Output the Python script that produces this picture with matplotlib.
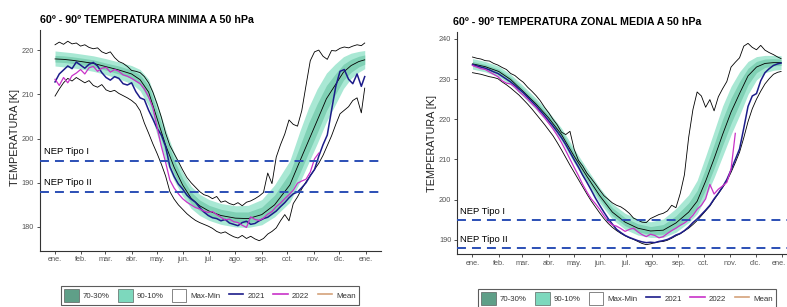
import matplotlib
matplotlib.use("Agg")
import matplotlib.pyplot as plt
from matplotlib.patches import Patch
from matplotlib.lines import Line2D
from matplotlib.transforms import ScaledTranslation

plt.rcParams['font.family'] = ['Liberation Sans', 'DejaVu Sans']

# ---------------- data ----------------
month_labels = ["ene.", "feb.", "mar.", "abr.", "may.", "jun.", "jul.",
                "ago.", "sep.", "oct.", "nov.", "dic.", "ene."]
month_days = [0, 31, 59, 90, 120, 151, 181, 212, 243, 273, 304, 334, 365]

nep_tipo1 = 195
nep_tipo2 = 188

days_5 = list(range(0, 361, 5)) + [364]
days_2022 = list(range(0, 311, 5))

# left panel: temperatura minima
min_days = [0, 10, 20, 31, 45, 59, 75, 90, 100, 110, 120, 130, 140, 150, 160, 170,
            181, 195, 212, 227, 243, 258, 276, 288, 298, 308, 319, 329, 339, 348, 357, 364]
min_mean = [218.0, 217.9, 217.7, 217.4, 217.0, 216.3, 215.5, 214.6, 213.3, 210.5, 204.5,
            198.5, 193.5, 189.5, 186.5, 184.8, 183.6, 182.6, 182.0, 181.9, 182.8, 185.0,
            189.5, 195.0, 199.5, 204.0, 209.0, 212.0, 215.0, 216.5, 217.4, 217.8]
min_p90 = [219.8, 219.6, 219.4, 219.1, 218.7, 218.1, 217.3, 216.5, 215.6, 213.4, 208.0,
           202.0, 196.8, 192.4, 189.2, 187.4, 186.2, 185.3, 184.8, 184.9, 186.2, 189.5,
           195.0, 201.8, 207.0, 211.2, 214.8, 216.8, 218.5, 219.3, 219.7, 219.9]
min_p70 = [218.8, 218.7, 218.5, 218.2, 217.8, 217.1, 216.4, 215.5, 214.4, 212.0, 206.3,
           200.3, 195.2, 191.0, 187.9, 186.1, 184.9, 184.0, 183.4, 183.4, 184.5, 187.2,
           192.3, 198.4, 203.5, 207.8, 212.0, 214.5, 216.8, 217.9, 218.6, 218.9]
min_p30 = [217.3, 217.2, 217.0, 216.7, 216.2, 215.5, 214.6, 213.6, 212.2, 209.0, 202.7,
           196.8, 192.0, 188.2, 185.3, 183.7, 182.6, 181.6, 181.0, 180.9, 181.6, 183.5,
           187.3, 192.3, 196.8, 201.2, 206.3, 209.8, 213.2, 215.0, 216.2, 216.8]
min_p10 = [216.4, 216.2, 216.0, 215.7, 215.2, 214.5, 213.5, 212.4, 210.8, 207.4, 200.8,
           195.0, 190.5, 187.0, 184.2, 182.6, 181.5, 180.6, 180.0, 179.9, 180.5, 182.3,
           185.6, 190.2, 194.5, 198.8, 203.8, 207.5, 211.3, 213.6, 215.0, 215.8]
min_max = [221.2, 221.8, 221.3, 222.0, 221.4, 221.6, 220.9, 221.2, 220.6, 220.3,
           220.5, 219.6, 219.2, 219.6, 218.3, 217.4, 217.0, 216.3, 215.4, 215.2,
           214.9, 214.0, 212.6, 210.5, 207.8, 204.8, 201.2, 198.4, 196.6, 194.8,
           192.9, 191.2, 190.0, 189.0, 188.0, 187.3, 187.0, 186.4, 186.9, 185.6,
           185.9, 185.3, 185.0, 185.5, 184.8, 185.6, 185.9, 186.4, 187.0, 187.8,
           192.2, 189.8, 195.8, 198.6, 201.0, 204.2, 203.2, 202.8, 206.3, 212.0,
           217.6, 219.6, 220.0, 218.6, 217.9, 219.9, 219.8, 220.4, 220.7, 220.5,
           220.9, 221.2, 221.0, 221.6]
min_min = [209.6, 211.2, 212.6, 213.6, 213.0, 213.8, 213.2, 212.6, 213.1, 212.0,
           211.6, 212.2, 211.0, 210.6, 210.9, 210.2, 209.7, 209.2, 208.6, 207.8,
           206.3, 203.5, 201.2, 198.8, 196.6, 194.2, 191.5, 188.0, 186.3, 185.0,
           184.0, 183.0, 182.2, 181.5, 181.0, 180.6, 180.2, 179.7, 179.0, 178.6,
           178.9, 178.3, 177.8, 177.5, 178.1, 177.4, 177.9, 177.3, 176.9, 177.4,
           178.4, 179.0, 179.8, 181.4, 182.8, 181.4, 185.3, 186.8, 188.6, 190.2,
           191.6, 193.0, 194.4, 196.2, 198.4, 200.6, 203.2, 205.6, 206.4, 207.2,
           208.6, 209.2, 205.8, 211.4]
min_2021 = [212.8, 214.6, 215.5, 216.4, 215.8, 217.3, 216.6, 215.9, 216.8, 217.2,
            216.4, 214.9, 213.8, 213.2, 214.0, 213.6, 212.4, 212.1, 212.6, 210.6,
            209.2, 208.8, 206.4, 204.4, 202.3, 200.8, 198.2, 193.6, 191.4, 189.7,
            188.6, 187.2, 186.3, 185.6, 184.4, 183.4, 182.6, 182.1, 181.9, 181.4,
            181.7, 180.9, 180.6, 180.3, 181.0, 181.3, 180.6, 180.8, 181.4, 181.9,
            182.2, 182.9, 183.6, 184.6, 185.5, 186.6, 187.5, 187.9, 188.9, 190.0,
            191.6, 193.0, 196.0, 198.6, 200.8, 206.4, 211.8, 215.2, 215.6, 213.4,
            212.4, 214.6, 211.8, 214.0]
min_2022 = [213.4, 212.0, 213.8, 212.6, 214.2, 214.8, 215.6, 214.6, 216.0, 216.3,
            215.2, 215.9, 216.1, 215.0, 215.6, 215.2, 214.4, 214.1, 213.6, 213.0,
            212.4, 211.2, 209.4, 207.0, 202.5, 198.2, 194.6, 190.6, 188.8, 187.5,
            186.4, 185.6, 185.0, 184.4, 184.1, 183.6, 183.3, 183.5, 182.8, 182.2,
            181.6, 181.8, 181.2, 181.0, 180.4, 179.9, 182.3, 181.7, 181.5, 182.0,
            182.9, 183.5, 184.6, 185.4, 186.4, 187.3, 188.3, 189.9, 190.4, 190.8,
            192.4, 195.4, 196.7]

# right panel: temperatura zonal media
zon_days = [0, 15, 31, 45, 59, 75, 90, 105, 120, 135, 150, 165, 180, 195, 210, 225,
            240, 255, 265, 275, 285, 295, 305, 315, 325, 335, 345, 355, 364]
zon_mean = [233.8, 233.1, 231.9, 229.9, 227.1, 223.8, 220.3, 216.2, 210.8, 205.8, 201.0,
            196.9, 194.4, 192.9, 192.2, 192.4, 194.2, 196.9, 199.6, 204.6, 210.2, 216.2,
            221.8, 226.4, 230.8, 233.0, 233.9, 234.1, 234.1]
zon_p90 = [235.1, 234.4, 233.2, 231.2, 228.5, 225.2, 221.8, 217.8, 212.6, 207.7, 203.0,
           199.0, 196.6, 195.2, 194.5, 195.2, 197.8, 201.2, 204.8, 210.8, 217.0, 223.3,
           228.2, 231.8, 234.4, 235.6, 235.9, 235.9, 235.8]
zon_p70 = [234.4, 233.7, 232.5, 230.5, 227.8, 224.5, 221.0, 217.0, 211.7, 206.7, 202.0,
           198.0, 195.5, 194.0, 193.3, 193.8, 196.0, 199.2, 202.3, 207.8, 213.8, 220.0,
           225.3, 229.4, 232.7, 234.4, 235.0, 235.1, 235.0]
zon_p30 = [233.2, 232.5, 231.3, 229.3, 226.5, 223.2, 219.6, 215.4, 210.0, 204.9, 200.1,
           196.0, 193.5, 192.0, 191.3, 191.4, 193.0, 195.5, 198.0, 202.5, 207.8, 213.5,
           219.0, 223.8, 228.6, 231.6, 232.9, 233.3, 233.4]
zon_p10 = [232.5, 231.8, 230.6, 228.6, 225.8, 222.4, 218.8, 214.6, 209.1, 204.0, 199.2,
           195.1, 192.6, 191.2, 190.6, 190.6, 191.9, 194.3, 196.5, 200.6, 205.5, 210.8,
           216.2, 221.0, 226.2, 229.8, 231.6, 232.2, 232.4]
zon_max = [235.5, 235.2, 235.0, 234.6, 234.5, 233.9, 233.5, 232.9, 232.4, 231.4,
           230.9, 230.0, 229.2, 228.0, 227.0, 225.9, 224.6, 223.0, 221.6, 220.0,
           218.6, 216.8, 216.2, 217.0, 212.5, 209.8, 208.4, 206.6, 205.3, 203.9,
           202.4, 201.0, 200.1, 199.2, 198.6, 198.2, 197.5, 196.6, 195.4, 194.9,
           194.4, 194.3, 195.3, 195.8, 196.3, 196.6, 197.2, 198.6, 198.0, 201.5,
           206.2, 215.5, 222.4, 226.8, 225.8, 223.0, 224.9, 222.1, 225.6, 227.6,
           229.4, 233.0, 234.2, 235.3, 238.2, 238.9, 237.9, 237.3, 238.4, 237.2,
           236.6, 236.1, 235.5, 235.1]
zon_min = [231.6, 231.4, 231.2, 230.9, 230.6, 230.4, 230.1, 229.3, 228.6, 227.8,
           226.9, 226.0, 224.9, 223.8, 222.6, 221.3, 220.0, 218.7, 217.3, 215.9,
           214.2, 212.4, 210.5, 208.6, 206.8, 205.0, 203.2, 201.4, 199.7, 198.2,
           196.7, 195.3, 194.1, 193.1, 192.3, 191.6, 191.0, 190.5, 190.1, 189.6,
           189.1, 188.8, 189.0, 189.3, 189.5, 189.6, 189.9, 190.4, 191.0, 191.5,
           192.2, 192.9, 193.8, 194.8, 196.0, 197.2, 198.4, 200.0, 201.5, 203.0,
           204.6, 206.8, 209.2, 211.8, 215.4, 219.4, 222.6, 225.0, 227.0, 228.8,
           230.1, 231.2, 231.7, 231.9]
zon_2021 = [233.6, 233.3, 233.0, 232.7, 232.3, 231.8, 231.4, 230.7, 230.0, 229.3,
            228.4, 227.5, 226.6, 225.5, 224.4, 223.3, 222.1, 220.9, 219.6, 218.3,
            216.9, 215.4, 213.7, 211.8, 209.9, 208.1, 206.1, 204.3, 202.4, 200.4,
            198.6, 196.9, 195.3, 193.9, 192.6, 191.8, 191.1, 190.6, 190.2, 189.8,
            189.5, 189.3, 189.4, 189.3, 189.6, 189.8, 190.1, 190.6, 191.2, 191.6,
            192.3, 193.2, 194.3, 195.2, 196.3, 197.4, 198.6, 200.2, 201.6, 203.2,
            205.0, 207.4, 210.0, 212.6, 217.8, 223.2, 225.8, 226.4, 229.6, 231.6,
            232.6, 233.4, 233.8, 234.0]
zon_2022 = [233.4, 233.0, 232.6, 232.4, 231.8, 231.2, 230.6, 229.6, 229.0, 228.8,
            228.0, 226.9, 226.0, 225.0, 223.9, 222.9, 221.6, 220.4, 219.0, 217.6,
            216.0, 214.2, 212.2, 210.1, 208.0, 206.0, 203.8, 201.9, 200.2, 199.0,
            197.6, 196.0, 194.6, 193.7, 193.4, 192.8, 192.1, 192.6, 192.9, 192.0,
            191.3, 190.8, 191.4, 191.1, 190.5, 190.8, 191.6, 192.3, 192.9, 193.6,
            194.2, 195.0, 196.1, 197.6, 198.6, 200.2, 203.8, 201.4, 202.6, 203.4,
            204.3, 207.6, 216.5]

# ---------------- styles ----------------
c_light = '#a9e8d4'
c_dark = '#80d1b5'
c_2021 = '#1c1c8a'
c_2022 = '#c832c8'
c_mean_leg = '#d4a27a'
c_nep = '#2b4fb5'

W, H = 787, 307
fig = plt.figure(figsize=(W / 100, H / 100), dpi=100)

ax1 = fig.add_axes([39.5 / W, 1 - 250.7 / H, 341.6 / W, 220.7 / H])
ax2 = fig.add_axes([457 / W, 1 - 254.3 / H, 340.4 / W, 222.6 / H])


def draw_panel(ax, d_s, mean, p90, p70, p30, p10, vmax, vmin, y21, y22, ylim, yticks, nep_x):
    ax.fill_between(d_s, p10, p90, color=c_light, lw=0, zorder=1)
    ax.fill_between(d_s, p30, p70, color=c_dark, lw=0, zorder=2)
    ax.plot(days_5, vmax, color='black', lw=0.6, zorder=3)
    ax.plot(days_5, vmin, color='black', lw=0.6, zorder=3)
    ax.plot(d_s, mean, color='black', lw=0.6, zorder=3)
    ax.plot(days_5, y21, color=c_2021, lw=1.1, zorder=4)
    ax.plot(days_2022, y22, color=c_2022, lw=0.9, zorder=5)
    for v, lab in [(nep_tipo1, 'NEP Tipo I'), (nep_tipo2, 'NEP Tipo II')]:
        ax.axhline(v, color=c_nep, lw=1.4, ls=(0, (4.6, 3.1)), zorder=6)
        ax.text(nep_x, v + 1.4, lab, fontsize=6.8, ha='left', va='baseline', zorder=7)
    ax.set_xlim(-18.25, 383.25)
    ax.set_ylim(*ylim)
    ax.set_xticks(month_days)
    ax.set_xticklabels(month_labels)
    ax.set_yticks(yticks)
    for s in ['top', 'right']:
        ax.spines[s].set_visible(False)
    for s in ['left', 'bottom']:
        ax.spines[s].set_linewidth(0.8)
        ax.spines[s].set_color('#333333')
    ax.tick_params(axis='both', labelsize=5.3, labelcolor='#555555', color='#333333',
                   length=2.5, width=0.6, pad=1.5)


draw_panel(ax1, min_days, min_mean, min_p90, min_p70, min_p30, min_p10, min_max, min_min,
           min_2021, min_2022, (174.64, 224.54), [180, 190, 200, 210, 220], -13.5)
draw_panel(ax2, zon_days, zon_mean, zon_p90, zon_p70, zon_p30, zon_p10, zon_max, zon_min,
           zon_2021, zon_2022, (186.4, 241.8), [190, 200, 210, 220, 230, 240], -14.7)

# last month label of the right panel sits at the picture edge: nudge it inside
last_lab = ax2.get_xticklabels()[-1]
last_lab.set_transform(last_lab.get_transform() + ScaledTranslation(-0.035, 0, fig.dpi_scale_trans))

fig.text(39.5 / W, 1 - 20 / H, "60º - 90º TEMPERATURA MINIMA A 50 hPa",
         fontsize=7.7, fontweight='bold', ha='left', va='center')
fig.text(453 / W, 1 - 21.7 / H, "60º - 90º TEMPERATURA ZONAL MEDIA A 50 hPa",
         fontsize=7.7, fontweight='bold', ha='left', va='center')
fig.text(15 / W, 1 - 137 / H, "TEMPERATURA [K]", rotation=90, fontsize=7.8,
         color='#222222', ha='center', va='center')
fig.text(432 / W, 1 - 143 / H, "TEMPERATURA [K]", rotation=90, fontsize=7.8,
         color='#222222', ha='center', va='center')

for cx, cy in [(210, 295.5), (627, 298.5)]:
    handles = [
        Patch(facecolor='#5f9f88', edgecolor='#444444', lw=0.4, label='70-30%'),
        Patch(facecolor='#7dd8bd', edgecolor='#444444', lw=0.4, label='90-10%'),
        Patch(facecolor='white', edgecolor='#555555', lw=0.5, label='Max-Min'),
        Line2D([], [], color=c_2021, lw=1.2, label='2021'),
        Line2D([], [], color=c_2022, lw=1.2, label='2022'),
        Line2D([], [], color=c_mean_leg, lw=1.2, label='Mean'),
    ]
    leg = fig.legend(handles=handles, loc='center', bbox_to_anchor=(cx / W, 1 - cy / H),
                     ncol=6, fontsize=5.7, frameon=True, fancybox=False, edgecolor='#333333',
                     handlelength=1.8, handleheight=2.0, handletextpad=0.5,
                     columnspacing=1.1, borderpad=0.4, labelcolor='#333333')
    leg.get_frame().set_linewidth(0.8)

fig.savefig("out.png", dpi=100)
